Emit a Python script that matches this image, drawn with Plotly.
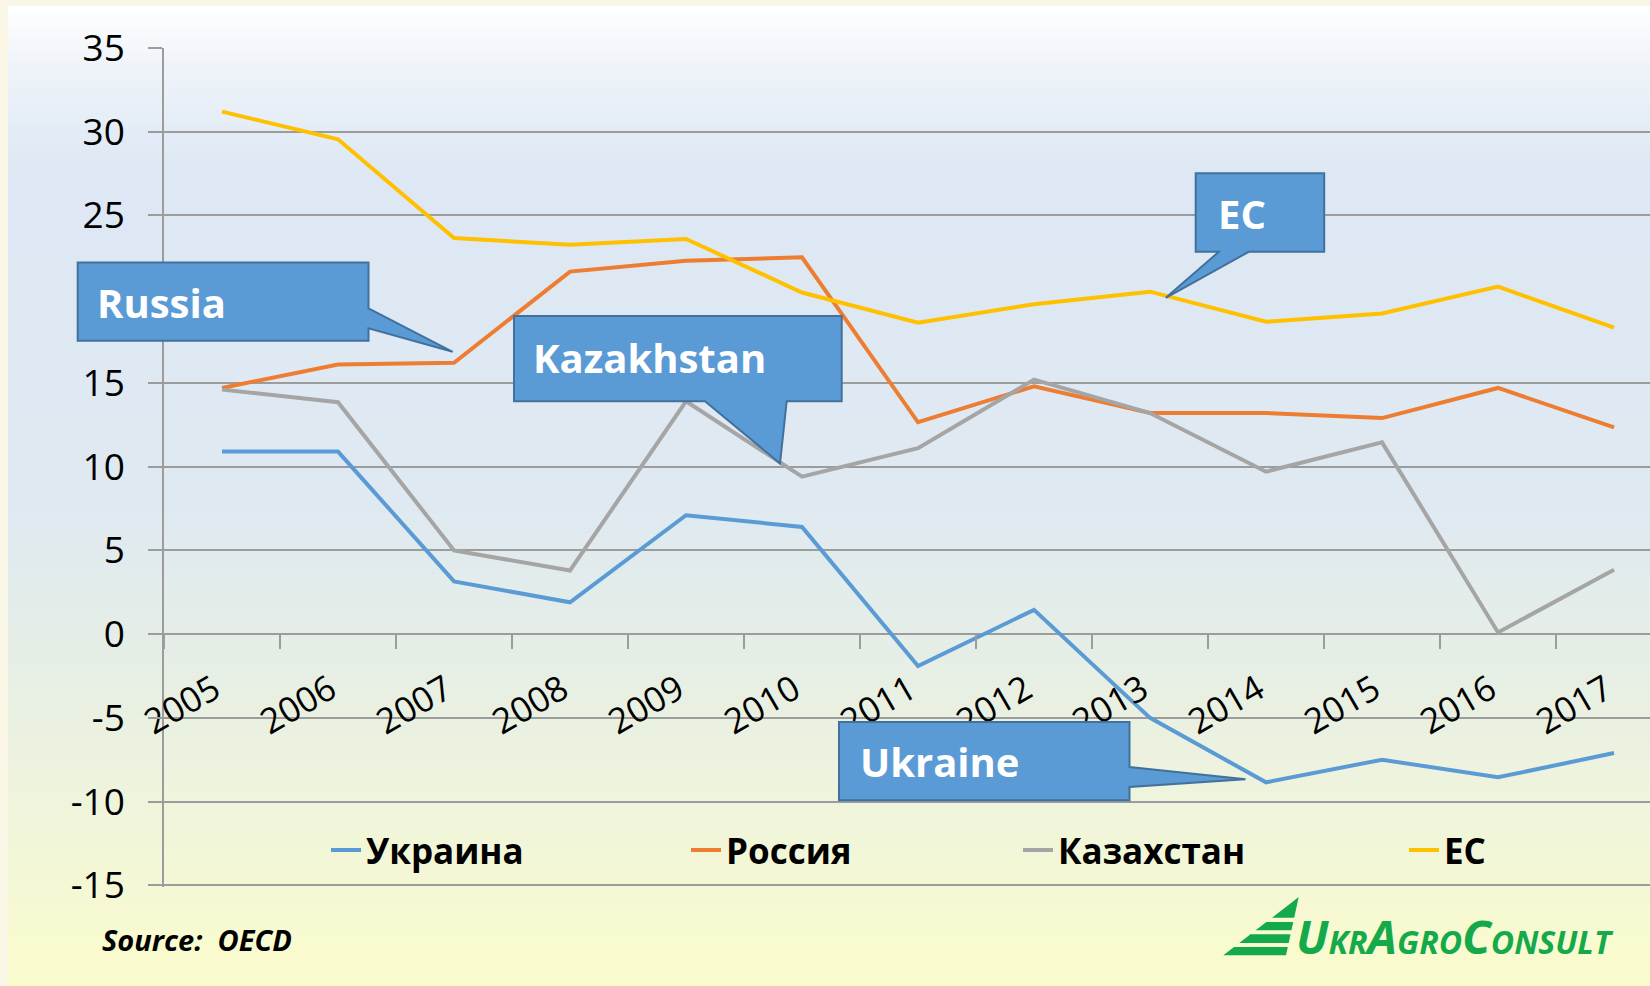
import plotly.graph_objects as go

# ---------------- data ----------------
years = [str(y) for y in range(2005, 2018)]
ukraine = [10.9, 10.9, 3.15, 1.9, 7.1, 6.4, -1.9, 1.45, -5.0, -8.85, -7.5, -8.55, -7.1]
russia = [14.7, 16.1, 16.2, 21.65, 22.3, 22.5, 12.65, 14.8, 13.2, 13.2, 12.9, 14.7, 12.35]
kazakhstan = [14.6, 13.85, 5.0, 3.8, 13.9, 9.4, 11.1, 15.2, 13.2, 9.7, 11.45, 0.1, 3.85]
ec = [31.2, 29.55, 23.65, 23.25, 23.6, 20.4, 18.6, 19.7, 20.45, 18.65, 19.15, 20.75, 18.3]
series_names = ["Украина", "Россия", "Казахстан", "ЕС"]
y_tick_vals = [-15, -10, -5, 0, 5, 10, 15, 25, 30, 35]
y_tick_text = ["-15", "-10", "-5", "0", "5", "10", "15", "25", "30", "35"]
callout_labels = ["Russia", "Kazakhstan", "EC", "Ukraine"]
source_text = "Source:  OECD"

# ---------------- geometry helpers (pixels -> paper) ----------------
W, H = 1650, 986
Y_MIN, Y_MAX = -15.1, 35.0
UNIT = (885 - 48) / 50.0           # pixels per y unit
L, R, T = 164, 0, 48
B = H - (885 + (-15 - Y_MIN) * UNIT)
PW, PH = W - L - R, H - T - B


def px(x):
    return (x - L) / PW


def py(y):
    return (H - B - y) / PH


colors = ["#5B9BD5", "#ED7D31", "#A5A5A5", "#FFC000"]
series = [ukraine, russia, kazakhstan, ec]

fig = go.Figure()
legend_ids = ["legend", "legend2", "legend3", "legend4"]
for name, vals, col, lg in zip(series_names, series, colors, legend_ids):
    fig.add_trace(go.Scatter(x=years, y=vals, mode="lines", name=name,
                             line=dict(color=col, width=4), legend=lg,
                             hoverinfo="x+y+name"))

shapes = []

# background gradient panel
stops = [(6, (255, 255, 255)), (70, (238, 243, 249)), (170, (221, 232, 244)),
         (500, (222, 233, 242)), (650, (229, 238, 230)), (800, (239, 244, 220)),
         (986, (251, 252, 204))]


def grad(y):
    for (y0, c0), (y1, c1) in zip(stops[:-1], stops[1:]):
        if y0 <= y <= y1:
            t = (y - y0) / (y1 - y0)
            return "rgb(%d,%d,%d)" % tuple(round(a + (b - a) * t) for a, b in zip(c0, c1))
    return "rgb(%d,%d,%d)" % stops[-1][1]


step = 4
y = 6
while y < H:
    y2 = min(y + step, H)
    shapes.append(dict(type="rect", xref="paper", yref="paper", layer="below",
                       x0=px(8), x1=px(W), y0=py(y), y1=py(y2 + 0.6),
                       fillcolor=grad(y + step / 2), line=dict(width=0)))
    y = y2


def path(points):
    return "M " + " L ".join("%.5f,%.5f" % (px(a), py(b)) for a, b in points) + " Z"


callouts = [
    [(77.7, 262.3), (368.5, 262.3), (368.5, 308.3), (452.7, 351.7), (368.5, 328.3), (368.5, 340.7), (77.7, 340.7)],
    [(514, 316), (841.7, 316), (841.7, 401), (786.7, 401), (780, 463.3), (705, 401), (514, 401)],
    [(1195.7, 173.3), (1324.2, 173.3), (1324.2, 251.7), (1248.8, 251.7), (1165.8, 297.7), (1218.9, 251.7), (1195.7, 251.7)],
    [(839, 721.7), (1129.5, 721.7), (1129.5, 766.7), (1245.5, 779), (1129.5, 786.7), (1129.5, 800), (839, 800)],
]
for pts in callouts:
    shapes.append(dict(type="path", xref="paper", yref="paper", layer="above",
                       path=path(pts), fillcolor="#5B9BD5",
                       line=dict(color="#41719C", width=2)))

# logo emblem (striped triangle)
def lx(yy):
    return 1298.7 - 1.293 * (yy - 896.7)


def rx(yy):
    return 1298.7 - 0.218 * (yy - 896.7)


bands = [(896.7, 917.3), (921.7, 930), (934, 942.7), (946.7, 955)]
green = "#14A94A"
for y0, y1 in bands:
    pts = [(lx(y0), y0), (rx(y0), y0), (rx(y1), y1), (lx(y1), y1)]
    shapes.append(dict(type="path", xref="paper", yref="paper", layer="above",
                       path=path(pts), fillcolor=green, line=dict(width=0)))

annotations = []
text_pos = [(95, 302), (531, 357), (1216, 213), (858, 761)]
for lab, (x, yy) in zip(callout_labels, text_pos):
    annotations.append(dict(text=lab, xref="paper", yref="paper", x=px(x), y=py(yy),
                            xanchor="left", yanchor="middle", showarrow=False,
                            font=dict(family="Open Sans", size=40, color="white", weight="bold")))

annotations.append(dict(text=source_text, xref="paper", yref="paper", x=px(100), y=py(939),
                        xanchor="left", yanchor="middle", showarrow=False,
                        font=dict(family="Open Sans", size=29, color="black",
                                  weight="bold", style="italic")))

sm = "<span style='font-size:32px'>%s</span>"
logo = "U" + sm % "KR" + "A" + sm % "GRO" + "C" + sm % "ONSULT"
annotations.append(dict(text=logo, xref="paper", yref="paper", x=px(1294), y=py(936),
                        xanchor="left", yanchor="middle", showarrow=False,
                        font=dict(family="Open Sans", size=47, color=green,
                                  weight="bold", style="italic")))

legend_text_x = [366, 726, 1058, 1444]
legend_common = dict(orientation="h", xanchor="left", yanchor="middle", y=py(850),
                     bgcolor="rgba(0,0,0,0)", borderwidth=0,
                     font=dict(family="Open Sans", size=35, color="black", weight="bold"))
layout_legends = {}
for lg, tx in zip(legend_ids, legend_text_x):
    layout_legends[lg] = dict(x=px(tx - 40), **legend_common)

grid_col = "#9C9C9C"
fig.update_layout(
    width=W, height=H,
    margin=dict(l=L, r=R, t=T, b=B),
    paper_bgcolor="#FAF6E5",
    plot_bgcolor="rgba(0,0,0,0)",
    showlegend=True,
    shapes=shapes,
    annotations=annotations,
    xaxis=dict(type="category", range=[-0.5, 12.31], anchor="free",
               position=(0 - Y_MIN) / (Y_MAX - Y_MIN),
               showgrid=False, showline=False, zeroline=False,
               tickvals=years, ticktext=[yr + "\u00a0" for yr in years],
               ticks="outside", tickson="boundaries", ticklen=14, tickwidth=1.5,
               tickcolor=grid_col, tickangle=-30, ticklabelstandoff=23,
               tickfont=dict(family="Open Sans", size=35, color="black")),
    yaxis=dict(range=[Y_MIN, Y_MAX], tickvals=y_tick_vals, ticktext=y_tick_text,
               showgrid=True, gridcolor=grid_col, gridwidth=1.5,
               showline=True, linecolor=grid_col, linewidth=1.5,
               ticks="outside", ticklen=14, tickwidth=1.5, tickcolor=grid_col,
               zeroline=False, ticklabelstandoff=16,
               tickfont=dict(family="Open Sans", size=37, color="black")),
    **layout_legends,
)

fig.write_html("out.html", config={"displayModeBar": False},
               post_script="document.body.style.margin='0px';")
